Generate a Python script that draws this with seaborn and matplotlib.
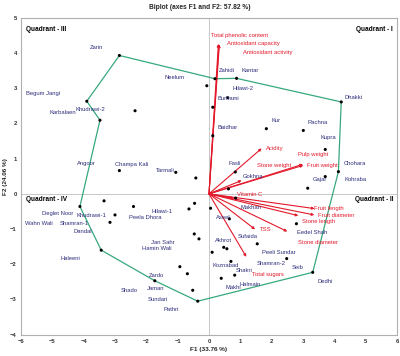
import numpy as np
import matplotlib
matplotlib.use("Agg")
import matplotlib.pyplot as plt
import seaborn as sns

obs_f1 = [-2.86, -3.90, -3.48, -2.36, -2.86, -1.06, -0.42, -0.07, 0.19, 0.88,
          0.60, 0.12, 0.12, 1.83, 3.01, 3.71, 4.22, 4.13, 0.84, 3.71,
          0.62, 3.15, -0.46, -0.64, 0.05, 0.85, 0.65, -0.47, -0.32, 2.79,
          1.54, 0.10, 0.47, 0.57, 2.48, 0.70, 0.82, 0.39, 3.31, -0.93,
          -0.69, -0.52, -0.36, -4.12, -3.35, -3.00, -3.16, -2.41, -3.44, -1.73]
obs_f2 = [3.93, 2.63, 2.09, 2.36, 0.66, 0.61, 0.45, 3.07, 3.27, 3.28,
          2.73, 2.46, 1.65, 1.85, 1.80, 1.26, 2.61, 0.63, 0.62, 0.49,
          0.14, 0.16, -0.27, -0.43, -0.41, -0.12, -0.71, -1.14, -1.28, -0.85,
          -1.42, -1.66, -1.52, -1.56, -1.84, -1.92, -2.31, -2.40, -2.23, -2.07,
          -2.27, -2.74, -3.05, -0.36, -0.20, -0.60, -0.81, -0.36, -1.60, -2.47]

# outline drawn through these observations (indices into the lists above)
hull_idx = [0, 8, 9, 16, 17, 38, 42, 49, 48, 43, 2, 1, 0]

# cultivar labels as placed on the chart
cultivars = ["Zarin", "Neelum", "Begum Jangi", "Karbalaen", "Khudrawi-2", "Angoor",
             "Champa Kali", "Tarmali", "Zahidi", "Kantar", "Hilawi-2", "Burhami",
             "Baidhar", "Kur", "Rachna", "Kupra", "Dhakki", "Fasli", "Chohara",
             "Gokhna", "Gajar", "Kohraba", "Makhan", "Aseel", "Eedel Shah",
             "Sufaida", "Akhrot", "Peeli Sundar", "Shamran-2", "Koznabad", "Seib",
             "Shakri", "Halmain", "Makhi", "Dedhi", "Deglet Noor", "Khudrawi-1",
             "Wahn Wali", "Shamran-1", "Dandal", "Peela Dhora", "Hilawi-1",
             "Jan Sahr", "Hamin Wali", "Haleeni", "Zardo", "Shado", "Jaman",
             "Sundari", "Pathri"]
cult_x = [-3.58, -1.11, -5.30, -4.67, -3.77, -3.90, -2.47, -1.40, 0.58, 1.31,
          1.07, 0.62, 0.61, 2.14, 3.48, 3.82, 4.60, 0.82, 4.66, 1.39,
          3.54, 4.68, 1.34, 0.46, 3.28, 1.22, 0.46, 2.22, 2.00, 0.54,
          2.83, 1.12, 1.31, 0.78, 3.70, -4.82, -3.74, -5.43, -4.31, -4.03,
          -2.03, -1.50, -1.47, -1.67, -4.42, -1.68, -2.56, -1.71, -1.64, -1.21]
cult_y = [4.17, 3.30, 2.85, 2.32, 2.40, 0.87, 0.83, 0.66, 3.50, 3.51,
          2.98, 2.70, 1.88, 2.09, 2.04, 1.60, 2.73, 0.87, 0.85, 0.49,
          0.40, 0.42, -0.39, -0.66, -1.11, -1.20, -1.33, -1.68, -1.97, -2.05,
          -2.10, -2.18, -2.57, -2.66, -2.48, -0.56, -0.62, -0.85, -0.85, -1.06,
          -0.66, -0.51, -1.39, -1.55, -1.85, -2.31, -2.74, -2.70, -3.00, -3.30]

# variable loadings (arrow tips) and their label positions
variables = ["Total phenolic content", "Antioxidant capacity", "Antioxidant activity",
             "Acidity", "Pulp weight", "Fruit weight", "Stone weight", "Vitamin C",
             "Fruit length", "Fruit diameter", "Stone length", "Stone diameter",
             "TSS", "Total sugars"]
var_f1 = [0.30, 0.32, 0.33, 1.68, 3.00, 3.01, 1.04, 0.78, 3.37, 3.36, 2.85, 2.50, 1.47, 1.19]
var_f2 = [4.26, 4.25, 4.24, 1.29, 0.84, 0.81, 0.38, -0.12, -0.42, -0.60, -0.62, -1.07, -1.01, -1.79]
var_lx = [0.97, 1.41, 1.88, 2.11, 3.31, 3.63, 2.07, 1.31, 3.83, 4.07, 3.51, 3.49, 1.82, 1.89]
var_ly = [4.50, 4.26, 4.01, 1.28, 1.11, 0.81, 0.81, -0.02, -0.43, -0.61, -0.80, -1.37, -1.01, -2.29]

quadrants = ["Quadrant - I", "Quadrant - II", "Quadrant - III", "Quadrant - IV"]

sns.set_theme(style="white")
plt.rcParams['font.family'] = ['Liberation Sans', 'DejaVu Sans']

navy = "#2e2e7c"
red = "#e3192b"
green = "#36a97c"

fig = plt.figure(figsize=(4, 3.56), dpi=100)
ax = fig.add_axes([0.0525, 0.06, 0.94, 0.89])

ax.axhline(0, color="#c8c8c8", lw=0.7, zorder=0)
ax.axvline(0, color="#c8c8c8", lw=0.7, zorder=0)

hx = [obs_f1[i] for i in hull_idx]
hy = [obs_f2[i] for i in hull_idx]
ax.plot(hx, hy, color=green, lw=0.9, zorder=1)

sns.scatterplot(x=obs_f1, y=obs_f2, color="black", s=5, edgecolor="none", ax=ax, zorder=3)

for x, y in zip(var_f1, var_f2):
    ax.annotate("", xy=(x, y), xytext=(0, 0),
                arrowprops=dict(arrowstyle="-|>", color=red, lw=0.8,
                                mutation_scale=3.5, shrinkA=0, shrinkB=0), zorder=2)

for name, x, y in zip(cultivars, cult_x, cult_y):
    ax.text(x, y, name, color=navy, fontsize=4.2, ha="center", va="center", zorder=4)

for name, x, y in zip(variables, var_lx, var_ly):
    ax.text(x, y, name, color=red, fontsize=4.2, ha="center", va="center", zorder=4)

qkw = dict(fontsize=4.7, fontweight="bold", color="black", transform=ax.transAxes)
ax.text(0.99, 0.975, quadrants[0], ha="right", va="top", **qkw)
ax.text(0.99, 0.425, quadrants[1], ha="right", va="center", **qkw)
ax.text(0.012, 0.975, quadrants[2], ha="left", va="top", **qkw)
ax.text(0.012, 0.425, quadrants[3], ha="left", va="center", **qkw)

ax.set_xlim(-6, 6)
ax.set_ylim(-4, 5)
ax.set_xticks(np.arange(-6, 7, 1))
ax.set_yticks(np.arange(-4, 6, 1))
ax.tick_params(labelsize=4.2, length=0, pad=3, colors="#333333")
for lab in ax.get_xticklabels() + ax.get_yticklabels():
    lab.set_fontweight("bold")
for sp in ax.spines.values():
    sp.set_color("#b0b0b0")
    sp.set_linewidth(0.8)

fig.text(0.5, 0.98, "Biplot (axes F1 and F2: 57.82 %)", ha="center", va="center",
         fontsize=4.8, fontweight="bold")
fig.text(0.5225, 0.018, "F1 (33.76 %)", ha="center", va="center", fontsize=4.6, fontweight="bold")
fig.text(0.013, 0.505, "F2 (24.06 %)", ha="center", va="center", rotation=90,
         fontsize=4.6, fontweight="bold")

fig.savefig("out.png", dpi=100)
